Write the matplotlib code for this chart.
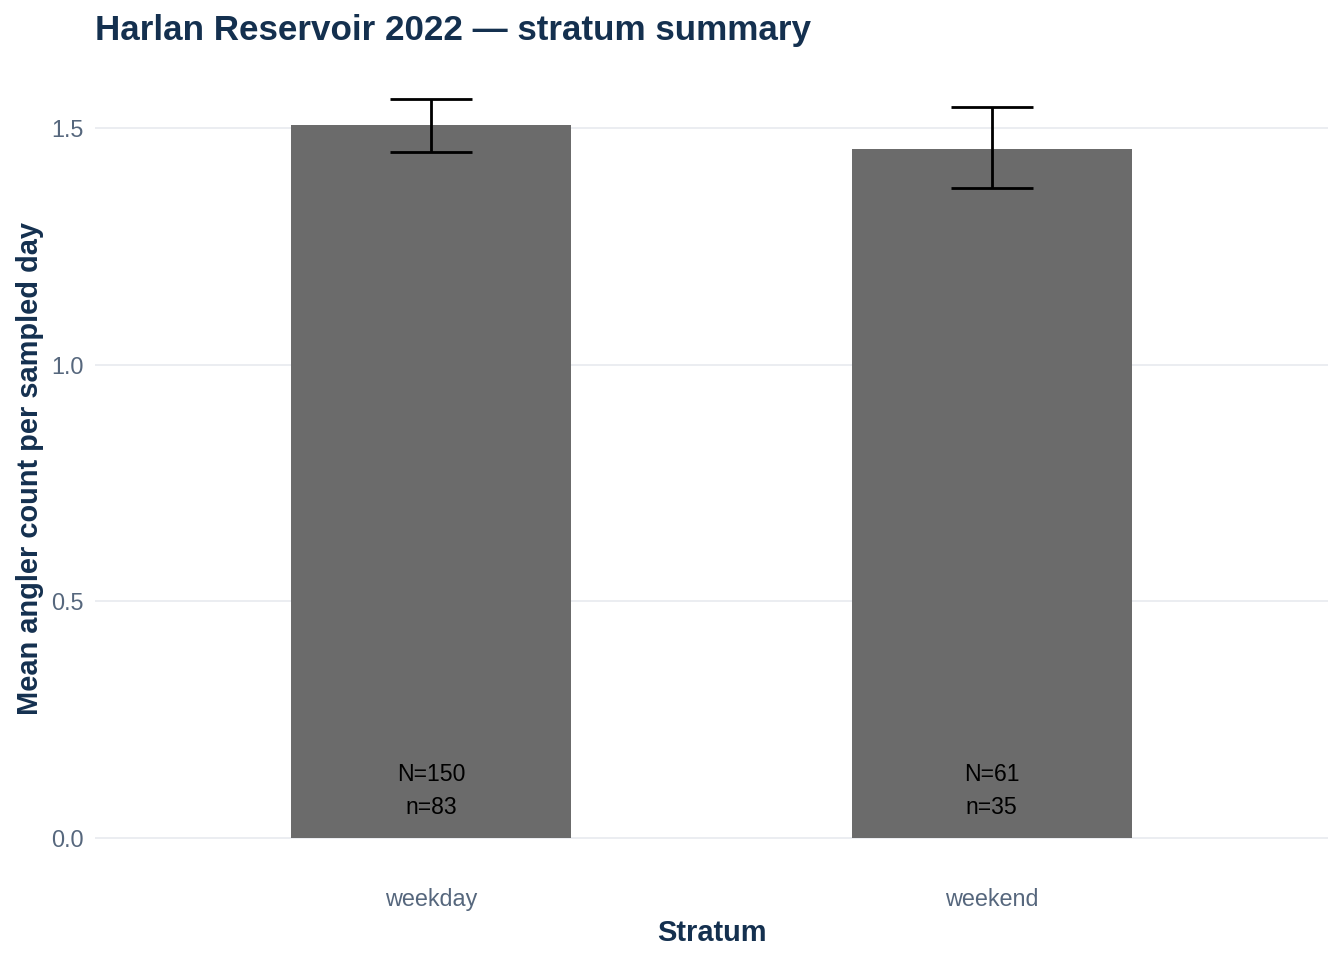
import matplotlib
matplotlib.use("Agg")
import matplotlib.pyplot as plt

# Data
strata = ["weekday", "weekend"]
mean_count = [1.506, 1.456]
ci_low = [1.449, 1.373]
ci_high = [1.561, 1.544]
n_days_total = [150, 61]
n_days_sampled = [83, 35]

navy = "#14304f"
tick_col = "#56677d"

plt.rcParams["font.family"] = ["Liberation Sans", "DejaVu Sans"]

fig = plt.figure(figsize=(1344 / 144, 960 / 144), dpi=144)
ax = fig.add_axes([95 / 1344, 1 - 875 / 960, (1328 - 95) / 1344, (875 - 62) / 960])

x = list(range(1, len(strata) + 1))
ax.bar(x, mean_count, width=0.5, color="#6b6b6b", zorder=2)

err_lo = [m - lo for m, lo in zip(mean_count, ci_low)]
err_hi = [hi - m for m, hi in zip(mean_count, ci_high)]
ax.errorbar(x, mean_count, yerr=[err_lo, err_hi], fmt="none", ecolor="black",
            elinewidth=1.4, capsize=20.5, capthick=1.4, zorder=3)

# sample size labels near the base of each bar
for xi, big_n, small_n in zip(x, n_days_total, n_days_sampled):
    ax.text(xi, 0.135, f"N={big_n}", ha="center", va="center",
            fontsize=11.5, color="black", zorder=4)
    ax.text(xi, 0.065, f"n={small_n}", ha="center", va="center",
            fontsize=11.5, color="black", zorder=4)

ax.set_xlim(0.4, 2.6)
ax.set_ylim(-0.078, 1.639)
ax.set_xticks(x)
ax.set_xticklabels(strata)
ax.set_yticks([0.0, 0.5, 1.0, 1.5])
ax.set_yticklabels(["0.0", "0.5", "1.0", "1.5"])

ax.grid(axis="y", color="#e9ecf0", linewidth=0.9, zorder=0)
ax.grid(axis="x", visible=False)
for s in ax.spines.values():
    s.set_visible(False)
ax.tick_params(axis="both", length=0, labelsize=11.7, labelcolor=tick_col)
ax.tick_params(axis="x", pad=6.5)
ax.tick_params(axis="y", pad=5.5)

ax.set_xlabel("Stratum", fontsize=14.5, fontweight="bold", color=navy, labelpad=4)
ax.set_ylabel("Mean angler count per sampled day", fontsize=14.5,
              fontweight="bold", color=navy, labelpad=3.5)
ax.set_title("Harlan Reservoir 2022 \u2014 stratum summary", loc="left",
             fontsize=17.5, fontweight="bold", color=navy, pad=11)

fig.savefig("out.png", dpi=144)
